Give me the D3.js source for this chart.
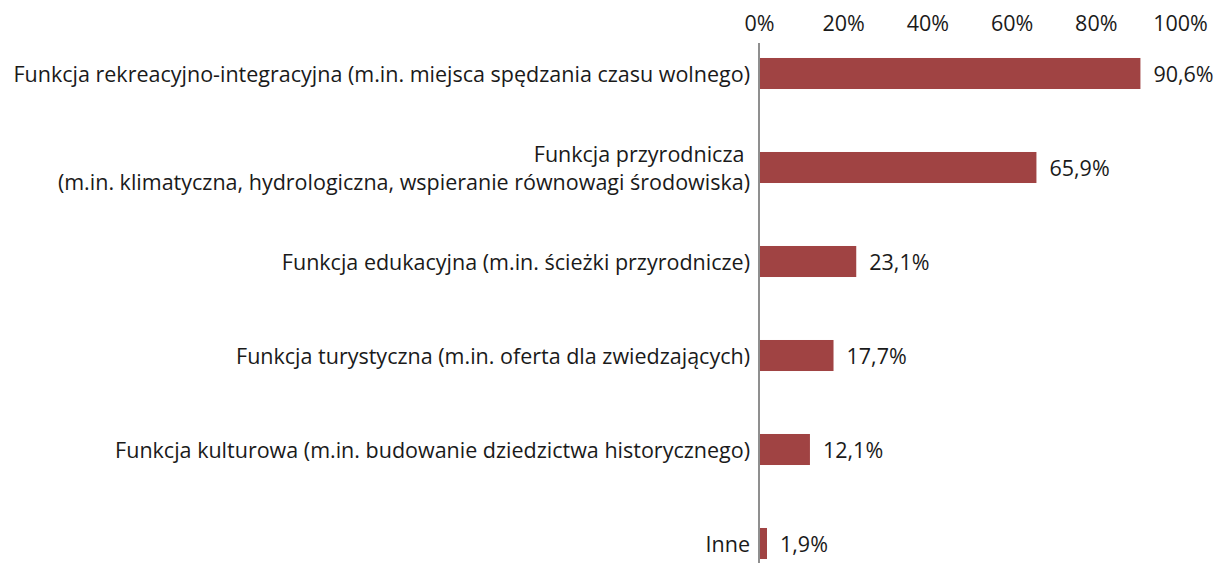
<!DOCTYPE html>
<html>
<head>
<meta charset="utf-8">
<script src="https://cdn.jsdelivr.net/npm/d3@7"></script>
<style>
  body { margin: 0; background: #fff; }
  text { font-family: "Open Sans", "Noto Sans", sans-serif; fill: #1a1a1a; }
</style>
</head>
<body>
<div id="chart"></div>
<script>
var width = 1215, height = 563;

// categories (each entry = lines of the label)
var categories = [
    ["Funkcja rekreacyjno-integracyjna (m.in. miejsca spędzania czasu wolnego)"],
    ["Funkcja przyrodnicza ", "(m.in. klimatyczna, hydrologiczna, wspieranie równowagi środowiska)"],
    ["Funkcja edukacyjna (m.in. ścieżki przyrodnicze)"],
    ["Funkcja turystyczna (m.in. oferta dla zwiedzających)"],
    ["Funkcja kulturowa (m.in. budowanie dziedzictwa historycznego)"],
    ["Inne"]
];
var values = [90.6, 65.9, 23.1, 17.7, 12.1, 1.9];
var tickValues = [0, 20, 40, 60, 80, 100];

var fontSize = "21.5px";

var svg = d3.select("#chart").append("svg")
    .attr("width", width)
    .attr("height", height);

var x = d3.scaleLinear()
    .domain([0, 100])
    .range([759, 1180]);

var y = d3.scaleBand()
    .domain(d3.range(categories.length))
    .range([26.5, 26.5 + 94 * categories.length])
    .paddingInner(0.67)
    .paddingOuter(0.335);

// top axis labels
var axis = d3.axisTop(x)
    .tickValues(tickValues)
    .tickSize(0)
    .tickPadding(0)
    .tickFormat(function (d) { return d + "%"; });

var ax = svg.append("g")
    .attr("transform", "translate(0,31)")
    .call(axis);
ax.select(".domain").remove();
ax.selectAll("text")
    .attr("dy", 0)
    .style("font-family", "'Open Sans', 'Noto Sans', sans-serif")
    .style("font-size", fontSize)
    .style("fill", "#1a1a1a");

// bars
svg.selectAll(".bar")
    .data(values)
    .enter().append("rect")
    .attr("class", "bar")
    .attr("x", x(0))
    .attr("y", function (d, i) { return y(i); })
    .attr("width", function (d) { return x(d) - x(0); })
    .attr("height", y.bandwidth())
    .style("fill", "#a04343");

// vertical axis line
svg.append("line")
    .attr("x1", x(0)).attr("x2", x(0))
    .attr("y1", 43).attr("y2", height)
    .style("stroke", "#8f8f8f")
    .style("stroke-width", 2);

// value labels
svg.selectAll(".val")
    .data(values)
    .enter().append("text")
    .attr("class", "val")
    .attr("x", function (d) { return x(d) + 13; })
    .attr("y", function (d, i) { return y(i) + y.bandwidth() / 2 + 8.5; })
    .style("font-size", fontSize)
    .text(function (d) { return d3.format(".1f")(d).replace(".", ",") + "%"; });

// category labels
var lab = svg.selectAll(".cat")
    .data(categories)
    .enter().append("text")
    .attr("class", "cat")
    .attr("text-anchor", "end")
    .style("font-size", fontSize)
    .style("white-space", "pre")
    .attr("transform", function (d, i) {
        return "translate(750," + (y(i) + y.bandwidth() / 2 + 8.5) + ")";
    });

lab.selectAll("tspan")
    .data(function (d) { return d; })
    .enter().append("tspan")
    .attr("x", 0)
    .attr("y", function (t, j, nodes) {
        var n = nodes.length;
        return (j - (n - 1) / 2) * 28;
    })
    .text(function (t) { return t; });
</script>
</body>
</html>
